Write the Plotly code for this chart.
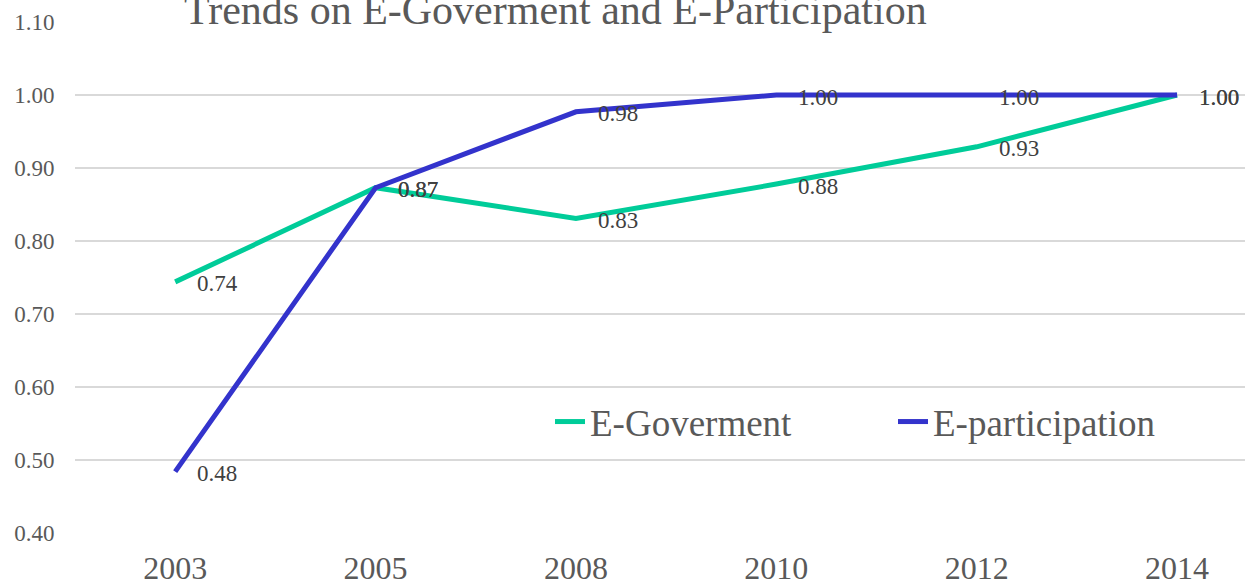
import plotly.graph_objects as go

years = ["2003", "2005", "2008", "2010", "2012", "2014"]
egov = [0.744, 0.873, 0.831, 0.878, 0.929, 1.00]
epart = [0.484, 0.873, 0.977, 1.00, 1.00, 1.00]
series_names = ["E-Goverment", "E-participation"]
colors = ["#00CC99", "#3333CC"]
title_text = "Trends on E-Goverment and E-Participation"

FONT = "Liberation Serif, Times New Roman, serif"

fig = go.Figure()
for name, vals, col in zip(series_names, [egov, epart], colors):
    fig.add_trace(go.Scatter(x=years, y=vals, mode="lines", name=name,
                             line=dict(color=col, width=5)))

annotations = []
for vals in [egov, epart]:
    for i, v in enumerate(vals):
        annotations.append(dict(x=i, y=v, xref="x", yref="y", text=f"{v:.2f}",
                                showarrow=False, xanchor="left", yanchor="middle",
                                xshift=20, yshift=-2,
                                font=dict(family=FONT, size=23, color="#404040")))
annotations.append(dict(x=(555 - 75) / 1170, y=(533 - 10) / 511, xref="paper", yref="paper",
                        text=title_text, showarrow=False, xanchor="center", yanchor="middle",
                        font=dict(family=FONT, size=42, color="#595959")))

fig.update_layout(
    width=1245, height=586,
    margin=dict(l=75, r=0, t=22, b=53),
    paper_bgcolor="white", plot_bgcolor="white",
    annotations=annotations,
    showlegend=True,
    legend=dict(orientation="h", x=(550 - 75) / 1170, y=(533 - 422) / 511,
                xanchor="left", yanchor="middle",
                font=dict(family=FONT, size=37, color="#595959"),
                bgcolor="rgba(0,0,0,0)", entrywidth=298, entrywidthmode="pixels"),
    xaxis=dict(type="category", range=[-0.5, 5.339], showgrid=False, zeroline=False,
               showline=False, ticks="outside", ticklen=7, tickcolor="rgba(0,0,0,0)",
               automargin=False,
               tickfont=dict(family=FONT, size=32, color="#595959")),
    yaxis=dict(range=[0.4, 1.1], dtick=0.1, tickformat=".2f", showgrid=True,
               gridcolor="#D9D9D9", gridwidth=1.5, zeroline=False, showline=False,
               ticks="outside", ticklen=15, tickcolor="rgba(0,0,0,0)",
               automargin=False,
               tickfont=dict(family=FONT, size=23, color="#595959")),
)

fig.write_html("out.html")
